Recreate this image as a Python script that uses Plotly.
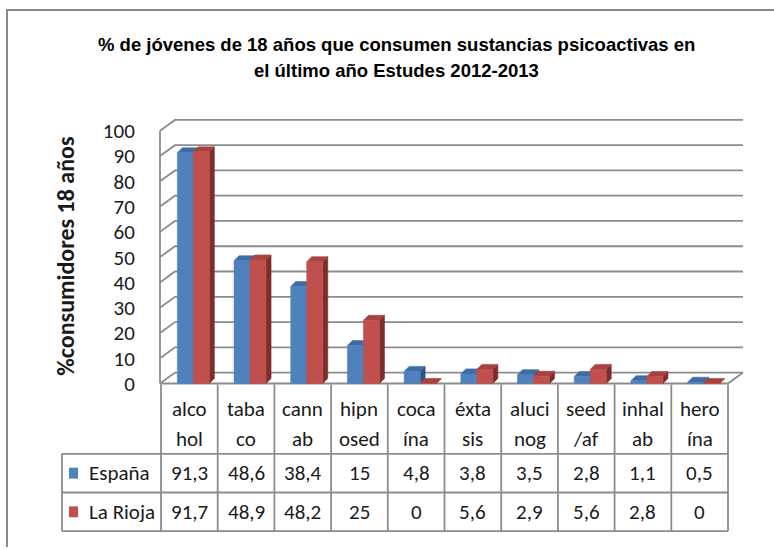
import plotly.graph_objects as go

# ---------------- data ----------------
cat_line1 = ["alco", "taba", "cann", "hipn", "coca", "éxta", "aluci", "seed", "inhal", "hero"]
cat_line2 = ["hol", "co", "ab", "osed", "ína", "sis", "nog", "/af", "ab", "ína"]
series_names = ["España", "La Rioja"]
espana = [91.3, 48.6, 38.4, 15, 4.8, 3.8, 3.5, 2.8, 1.1, 0.5]
la_rioja = [91.7, 48.9, 48.2, 25, 0, 5.6, 2.9, 5.6, 2.8, 0]
y_ticks = [0, 10, 20, 30, 40, 50, 60, 70, 80, 90, 100]
title_line1 = "% de jóvenes de 18 años que consumen sustancias psicoactivas en"
title_line2 = "el último año Estudes 2012-2013"
y_title = "%consumidores 18 años"

# ---------------- styles ----------------
FRONT = ["#4F81BD", "#C0504D"]
TOP = ["#3E6DA6", "#A9423F"]
SIDE = ["#2E5384", "#7D2D2B"]
GRID = "#8C8C8C"
TXT = "#1a1a1a"
BODY_FONT = "Carlito, Lato, sans-serif"
TITLE_FONT = "Liberation Sans, Arial, sans-serif"

W, H = 774, 550
COL0, CW, N = 161.0, 56.7, len(cat_line1)
Y0, S = 387.0, 2.55


def xd(px):
    return (px - COL0) / CW - 0.5


def yd(py):
    return (Y0 - py) / S


def xp(px):
    return px / W


def yp(py):
    return 1 - py / H


DX, DY = 15 / CW, 11 / S          # wall depth
BDX, BDY = 5 / CW, 5 / S          # bar depth
BW = 16 / CW                      # bar width
OFFS = [-12 / CW, 4 / CW]         # left edge offsets of the two series

fig = go.Figure()

series = [espana, la_rioja]
for s, vals in enumerate(series):
    sx, sy, tx, ty, fx, fy = [], [], [], [], [], []
    for i, v in enumerate(vals):
        l = i + OFFS[s]
        r = l + BW
        sx += [r, r + BDX, r + BDX, r, r, None]
        sy += [0, BDY, v + BDY, v, 0, None]
        tx += [l, r, r + BDX, l + BDX, l, None]
        ty += [v, v, v + BDY, v + BDY, v, None]
        fx += [l, r, r, l, l, None]
        fy += [0, 0, v, v, 0, None]
    for xs, ys, col in ((sx, sy, SIDE[s]), (tx, ty, TOP[s]), (fx, fy, FRONT[s])):
        fig.add_trace(go.Scatter(x=xs, y=ys, mode="lines", fill="toself",
                                 fillcolor=col, line=dict(color=col, width=0.6),
                                 hoverinfo="skip", showlegend=False))

shapes = []
# back wall gridlines with left-wall diagonal
for v in y_ticks:
    shapes.append(dict(type="path", xref="x", yref="y", layer="below",
                       path=f"M {xd(160)},{v} L {xd(160)+DX},{v+DY} L {xd(743)},{v+DY}",
                       line=dict(color=GRID, width=1.8)))
# left wall front edge
shapes.append(dict(type="path", xref="x", yref="y", layer="below",
                   path=f"M {xd(160)},0 L {xd(160)},{y_ticks[-1]}",
                   line=dict(color=GRID, width=1.8)))
# floor front edge
shapes.append(dict(type="path", xref="x", yref="y", layer="below",
                   path=f"M {xd(160)},0 L {xd(728)},0 L {xd(743)},{DY}",
                   line=dict(color=GRID, width=1.8)))

# data table lines
T_TOP, R1, R2, R3 = 388, 458, 497, 536
LEG_X = 62
for k in range(N + 1):
    x = COL0 + CW * k
    shapes.append(dict(type="line", xref="paper", yref="paper",
                       x0=xp(x), x1=xp(x), y0=yp(T_TOP), y1=yp(R3),
                       line=dict(color=GRID, width=1.8)))
for yy in (R1, R2, R3):
    shapes.append(dict(type="line", xref="paper", yref="paper",
                       x0=xp(LEG_X), x1=xp(COL0 + CW * N), y0=yp(yy), y1=yp(yy),
                       line=dict(color=GRID, width=1.8)))
shapes.append(dict(type="line", xref="paper", yref="paper",
                   x0=xp(LEG_X), x1=xp(LEG_X), y0=yp(R1), y1=yp(R3),
                   line=dict(color=GRID, width=1.8)))
# legend keys
for s, (ya, yb) in enumerate(((R1, R2), (R2, R3))):
    c = (ya + yb) / 2
    shapes.append(dict(type="rect", xref="paper", yref="paper",
                       x0=xp(69), x1=xp(78), y0=yp(c - 5.5), y1=yp(c + 5.5),
                       fillcolor=FRONT[s], line=dict(width=0)))
# outer chart border
shapes.append(dict(type="path", xref="paper", yref="paper",
                   path=f"M {xp(7)},{yp(552)} L {xp(7)},{yp(10)} L {xp(776)},{yp(10)}",
                   line=dict(color=GRID, width=2)))

ann = []
for i in range(N):
    cx = xp(COL0 + CW * (i + 0.5))
    ann.append(dict(x=cx, y=yp(413), text=cat_line1[i]))
    ann.append(dict(x=cx, y=yp(443), text=cat_line2[i]))
    ann.append(dict(x=cx, y=yp((R1 + R2) / 2), text=f"{espana[i]:g}".replace(".", ",")))
    ann.append(dict(x=cx, y=yp((R2 + R3) / 2), text=f"{la_rioja[i]:g}".replace(".", ",")))
for a in ann:
    a.update(xref="paper", yref="paper", xanchor="center", yanchor="middle",
             showarrow=False, font=dict(family=BODY_FONT, size=21, color=TXT))
for s, (ya, yb) in enumerate(((R1, R2), (R2, R3))):
    ann.append(dict(x=xp(87), y=yp((ya + yb) / 2), text=series_names[s],
                    xref="paper", yref="paper", xanchor="left", yanchor="middle",
                    showarrow=False, font=dict(family=BODY_FONT, size=21, color=TXT)))
ann.append(dict(x=xp(397), y=yp(45), text=title_line1, xref="paper", yref="paper",
                xanchor="center", yanchor="middle", showarrow=False,
                font=dict(family=TITLE_FONT, size=18.5, color="#000000", weight="bold")))
ann.append(dict(x=xp(396), y=yp(71), text=title_line2, xref="paper", yref="paper",
                xanchor="center", yanchor="middle", showarrow=False,
                font=dict(family=TITLE_FONT, size=18.5, color="#000000", weight="bold")))
ann.append(dict(x=xp(66), y=yp(259), text=y_title, xref="paper", yref="paper",
                xanchor="center", yanchor="middle", showarrow=False, textangle=-90,
                font=dict(family=BODY_FONT, size=24, color=TXT, weight="bold")))

fig.update_layout(
    width=W, height=H,
    margin=dict(l=0, r=0, t=0, b=0),
    paper_bgcolor="white", plot_bgcolor="rgba(0,0,0,0)",
    showlegend=False,
    shapes=shapes, annotations=ann,
    xaxis=dict(domain=[xp(150), xp(752)], range=[xd(150), xd(752)],
               visible=False, fixedrange=True),
    yaxis=dict(domain=[yp(395), yp(100)], range=[yd(395), yd(100)],
               tickvals=y_ticks, ticktext=[str(t) for t in y_ticks],
               ticks="outside", ticklen=10, tickcolor="rgba(0,0,0,0)",
               showgrid=False, zeroline=False, showline=False,
               tickfont=dict(family=BODY_FONT, size=21, color=TXT), fixedrange=True),
)

fig.write_html("out.html", config={"displayModeBar": False},
               post_script="document.body.style.margin='0';")
